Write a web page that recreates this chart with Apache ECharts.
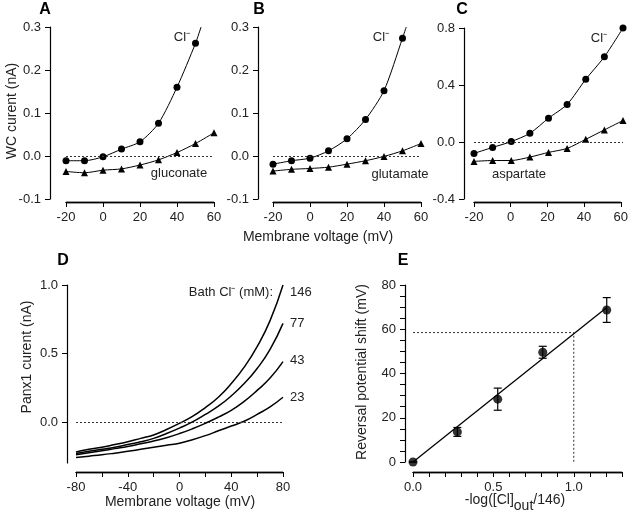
<!DOCTYPE html>
<html>
<head>
<meta charset="utf-8">
<script src="https://cdn.jsdelivr.net/npm/echarts/dist/echarts.min.js"></script>
<style>
  html, body { margin: 0; padding: 0; background: #fff; }
  #chart { width: 631px; height: 521px; }
</style>
</head>
<body>
<div id="chart"></div>
<script>
// panels A-C : whole-cell current vs voltage
var voltABC = [-20, -10, 0, 10, 20, 30, 40, 50, 60];
var clA = [-0.011, -0.011, -0.002, 0.016, 0.033, 0.076, 0.16, 0.262];
var clAEnd = [53, 0.3];
var gluconate = [-0.036, -0.039, -0.033, -0.030, -0.021, -0.009, 0.008, 0.029, 0.054];
var clB = [-0.019, -0.011, -0.005, 0.012, 0.040, 0.085, 0.152, 0.274];
var clBEnd = [52, 0.3];
var glutamate = [-0.035, -0.031, -0.029, -0.026, -0.019, -0.011, -0.001, 0.012, 0.029];
var clC = [-0.08, -0.038, 0.003, 0.061, 0.167, 0.264, 0.44, 0.598, 0.80];
var aspartate = [-0.136, -0.13, -0.13, -0.106, -0.073, -0.045, 0.019, 0.085, 0.151];

// panel D : Panx1 traces at several bath Cl- levels
var voltD = [-80, -70, -60, -50, -40, -30, -20, -10, 0, 10, 20, 30, 40, 50, 60, 70, 80];
var bath146 = [-0.22, -0.20, -0.185, -0.165, -0.145, -0.12, -0.095, -0.055, -0.01, 0.04, 0.105, 0.18, 0.28, 0.40, 0.55, 0.74, 1.0];
var bath77 = [-0.23, -0.215, -0.20, -0.185, -0.165, -0.145, -0.12, -0.085, -0.045, 0.0, 0.055, 0.115, 0.19, 0.28, 0.39, 0.53, 0.72];
var bath43 = [-0.24, -0.225, -0.21, -0.195, -0.18, -0.16, -0.14, -0.115, -0.085, -0.05, -0.01, 0.035, 0.085, 0.15, 0.23, 0.32, 0.44];
var bath23 = [-0.26, -0.25, -0.24, -0.228, -0.215, -0.20, -0.185, -0.17, -0.155, -0.13, -0.10, -0.065, -0.03, 0.005, 0.055, 0.11, 0.18];
var bathLabels = ['146', '77', '43', '23'];

// panel E : reversal potential shift
var logX = [0, 0.276, 0.527, 0.807, 1.205];
var shiftY = [0, 13.6, 28.4, 49.6, 68.7];
var shiftErr = [0, 2, 5, 2.7, 5.6];
var fitLine = [[0, 0], [1.205, 69.8]];
var refLine = [[0, 58.5], [1.0, 58.5], [1.0, 0]];

var FONT = '"Liberation Sans", Arial, sans-serif';

// plot areas, and the gap between each plot and its detached x axis
var plots = [
    { left: 66, top: 27, width: 148, height: 172, gap: 3 },
    { left: 273, top: 27, width: 148, height: 172, gap: 3 },
    { left: 474, top: 28, width: 149, height: 171, gap: 3 },
    { left: 76, top: 285, width: 207, height: 178, gap: 9 },
    { left: 413, top: 285, width: 209, height: 177, gap: 10 }
];

function pairs(xs, ys) {
    return ys.map(function (y, i) { return [xs[i], y]; });
}

function axisBase(grid, min, max, offset) {
    return {
        type: 'value',
        gridIndex: grid,
        min: min,
        max: max,
        offset: offset,
        axisLine: { show: true, onZero: false, lineStyle: { color: '#000', width: 1.2 } },
        axisTick: { show: true, length: 5, lineStyle: { color: '#000', width: 1 } },
        axisLabel: { color: '#222', fontSize: 13, fontFamily: FONT, margin: 9 },
        splitLine: { show: false }
    };
}

function fixed1(v) { return v.toFixed(1); }

// data x axis (hidden, carries the scale) + a strip grid just under the plot
// whose top edge holds the visible x axis with the same range
var grids = plots.map(function (p) {
    return { left: p.left, top: p.top, width: p.width, height: p.height };
});
plots.forEach(function (p) {
    grids.push({
        left: p.left, top: p.top + p.height + p.gap, width: p.width, height: 1,
        show: true, borderColor: '#000', borderWidth: 0.8, backgroundColor: 'transparent'
    });
});

var xRanges = [[-20, 60, 20], [-20, 60, 20], [-20, 60, 20], [-80, 80, 20], [0, 1.3, 0.1]];
var xFormat = [null, null, null,
    function (v) { return v % 40 === 0 ? String(v) : ''; },
    function (v) { return Math.abs(v * 2 - Math.round(v * 2)) < 1e-6 ? v.toFixed(1) : ''; }
];

var xAxes = [];
var yAxes = [];
xRanges.forEach(function (r, i) {
    xAxes.push({ type: 'value', gridIndex: i, min: r[0], max: r[1], interval: r[2], show: false });
});
xRanges.forEach(function (r, i) {
    var a = axisBase(5 + i, r[0], r[1], 0);
    a.position = 'top';
    a.interval = r[2];
    a.axisTick.inside = true;
    a.axisLabel.inside = true;
    if (xFormat[i]) a.axisLabel.formatter = xFormat[i];
    xAxes.push(a);
});

var yA = axisBase(0, -0.1, 0.3, 16); yA.interval = 0.1; yA.axisLabel.formatter = fixed1;
var yB = axisBase(1, -0.1, 0.3, 15); yB.interval = 0.1; yB.axisLabel.formatter = fixed1;
var yC = axisBase(2, -0.4, 0.8, 10); yC.interval = 0.4; yC.axisLabel.formatter = fixed1;
var yD = axisBase(3, -0.3, 1.0, 9);
yD.axisTick.customValues = [0, 0.5, 1.0];
yD.axisLabel.customValues = [0, 0.5, 1.0];
yD.axisLabel.formatter = fixed1;
var yE = axisBase(4, 0, 80, 8); yE.interval = 5;
yE.axisLabel.formatter = function (v) { return v % 20 === 0 ? String(v) : ''; };
yAxes.push(yA, yB, yC, yD, yE);
for (var k = 0; k < 5; k++) {
    yAxes.push({ type: 'value', gridIndex: 5 + k, min: 0, max: 1, show: false });
}

var zeroLine = {
    silent: true,
    symbol: 'none',
    label: { show: false },
    lineStyle: { type: [2, 2], color: '#333', width: 1 },
    data: [{ yAxis: 0 }]
};

function ivSeries(idx, data, sym, withZero) {
    var s = {
        type: 'line',
        xAxisIndex: idx,
        yAxisIndex: idx,
        data: data,
        smooth: 0.25,
        symbol: sym,
        symbolSize: 7,
        itemStyle: { color: '#000' },
        lineStyle: { color: '#000', width: 1 },
        animation: false
    };
    if (withZero) s.markLine = zeroLine;
    return s;
}

function withEnd(xs, ys, end) {
    var d = pairs(xs, ys);
    d.push({ value: end, symbol: 'none' });
    return d;
}

function traceSeries(ys) {
    return {
        type: 'line',
        xAxisIndex: 3,
        yAxisIndex: 3,
        data: pairs(voltD, ys),
        smooth: true,
        symbol: 'none',
        lineStyle: { color: '#000', width: 1.5 },
        animation: false
    };
}

function txt(x, y, text, opt) {
    opt = opt || {};
    return {
        type: 'text',
        x: x,
        y: y,
        rotation: opt.rot || 0,
        silent: true,
        style: {
            text: text,
            fill: opt.color || '#222',
            font: (opt.weight || 'normal') + ' ' + (opt.size || 13) + 'px ' + FONT,
            align: opt.align || 'center',
            verticalAlign: 'middle',
            rich: opt.rich
        }
    };
}

var graphics = [
    txt(45, 10, 'A', { size: 16, weight: 'bold', color: '#000' }),
    txt(259, 10, 'B', { size: 16, weight: 'bold', color: '#000' }),
    txt(462, 10, 'C', { size: 16, weight: 'bold', color: '#000' }),
    txt(63, 261, 'D', { size: 16, weight: 'bold', color: '#000' }),
    txt(403, 261, 'E', { size: 16, weight: 'bold', color: '#000' }),
    txt(12, 111, 'WC curent (nA)', { size: 14, rot: Math.PI / 2 }),
    txt(318, 237, 'Membrane voltage (mV)', { size: 14 }),
    txt(182, 37, 'Cl\u207B'),
    txt(179, 173, 'gluconate'),
    txt(381, 37, 'Cl\u207B'),
    txt(400, 174, 'glutamate'),
    txt(599, 38, 'Cl\u207B'),
    txt(519, 174, 'aspartate'),
    txt(27, 357, 'Panx1 curent (nA)', { size: 14, rot: Math.PI / 2 }),
    txt(180, 502, 'Membrane voltage (mV)', { size: 14 }),
    txt(273, 292, 'Bath Cl\u207B (mM):', { align: 'right' }),
    txt(290, 292, bathLabels[0], { align: 'left' }),
    txt(290, 323, bathLabels[1], { align: 'left' }),
    txt(290, 360, bathLabels[2], { align: 'left' }),
    txt(290, 397, bathLabels[3], { align: 'left' }),
    txt(362, 372, 'Reversal potential shift (mV)', { size: 14, rot: Math.PI / 2 }),
    txt(515, 500, '-log([Cl]{sub|out}/146)', {
        size: 14,
        rich: { sub: { fontSize: 14, fontFamily: FONT, fill: '#222', padding: [12, 0, 0, 0] } }
    })
];

var chart = echarts.init(document.getElementById('chart'), null, { renderer: 'canvas' });
chart.setOption({
    backgroundColor: '#fff',
    animation: false,
    textStyle: { fontFamily: FONT },
    grid: grids,
    xAxis: xAxes,
    yAxis: yAxes,
    graphic: graphics,
    series: [
        ivSeries(0, withEnd(voltABC, clA, clAEnd), 'circle', true),
        ivSeries(0, pairs(voltABC, gluconate), 'triangle', false),
        ivSeries(1, withEnd(voltABC, clB, clBEnd), 'circle', true),
        ivSeries(1, pairs(voltABC, glutamate), 'triangle', false),
        ivSeries(2, pairs(voltABC, clC), 'circle', true),
        ivSeries(2, pairs(voltABC, aspartate), 'triangle', false),
        (function () { var s = traceSeries(bath146); s.markLine = zeroLine; return s; })(),
        traceSeries(bath77),
        traceSeries(bath43),
        traceSeries(bath23),
        {
            type: 'line', xAxisIndex: 4, yAxisIndex: 4, data: refLine,
            symbol: 'none', lineStyle: { color: '#333', width: 1, type: [2, 2] }
        },
        {
            type: 'line', xAxisIndex: 4, yAxisIndex: 4, data: fitLine,
            symbol: 'none', lineStyle: { color: '#000', width: 1.3 }
        },
        {
            type: 'custom', xAxisIndex: 4, yAxisIndex: 4,
            data: logX.map(function (x, i) { return [x, shiftY[i], shiftErr[i]]; }),
            encode: { x: 0, y: 1 },
            renderItem: function (params, api) {
                var x = api.value(0), y = api.value(1), e = api.value(2);
                var top = api.coord([x, y + e]);
                var bot = api.coord([x, y - e]);
                var st = { stroke: '#000', lineWidth: 1.2 };
                return {
                    type: 'group',
                    children: [
                        { type: 'line', shape: { x1: top[0], y1: top[1], x2: bot[0], y2: bot[1] }, style: st },
                        { type: 'line', shape: { x1: top[0] - 4, y1: top[1], x2: top[0] + 4, y2: top[1] }, style: st },
                        { type: 'line', shape: { x1: bot[0] - 4, y1: bot[1], x2: bot[0] + 4, y2: bot[1] }, style: st }
                    ]
                };
            },
            z: 3
        },
        {
            type: 'scatter', xAxisIndex: 4, yAxisIndex: 4,
            data: pairs(logX, shiftY),
            symbol: 'circle', symbolSize: 9,
            itemStyle: { color: '#000' }, z: 4
        }
    ]
});
window.onresize = chart.resize;
</script>
</body>
</html>
